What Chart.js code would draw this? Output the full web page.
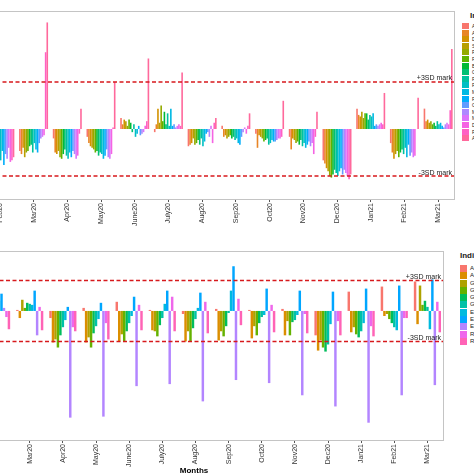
<!DOCTYPE html>
<html>
<head>
<meta charset="utf-8">
<script src="https://cdn.jsdelivr.net/npm/chart.js@4.4.1/dist/chart.umd.min.js"></script>
<style>
  html, body { margin: 0; padding: 0; background: #fff; }
  body { width: 474px; height: 474px; overflow: hidden; position: relative; font-family: "Liberation Sans", Arial, sans-serif; }
  canvas { position: absolute; }
  #topChart { left: -17px; top: 0; }
  #bottomChart { left: -20px; top: 240px; }
  .legend { position: absolute; color: #1a1a1a; white-space: nowrap; }
  .legend .title { font-size: 8px; font-weight: bold; line-height: 10px; }
  .legend .item { display: flex; align-items: flex-start; }
  .legend .key { display: inline-block; flex: none; margin-right: 3px; }
  #topLegend { left: 462px; top: 11px; }
  #topLegend .title { height: 12px; padding-left: 8px; }
  #topLegend .item { height: 6.6px; font-size: 5px; line-height: 6px; }
  #topLegend .key { width: 7px; height: 6px; }
  #bottomLegend { left: 460px; top: 251px; }
  #bottomLegend .title { height: 14px; }
  #bottomLegend .item { height: 7.3px; font-size: 6px; line-height: 7px; }
  #bottomLegend .key { width: 7px; height: 7px; }
  #xTitle { position: absolute; left: 170px; width: 48px; text-align: center; top: 466px; font-size: 8px; font-weight: bold; line-height: 10px; color: #000; }
</style>
</head>
<body>
<canvas id="topChart" width="472" height="230"></canvas>
<canvas id="bottomChart" width="464" height="231"></canvas>
<div id="topLegend" class="legend"></div>
<div id="bottomLegend" class="legend"></div>
<div id="xTitle">Months</div>
<script>
// 월 (x축 라벨)
const months = ['Feb20', 'Mar20', 'Apr20', 'May20', 'June20', 'July20', 'Aug20', 'Sep20', 'Oct20', 'Nov20', 'Dec20', 'Jan21', 'Feb21', 'Mar21']

// 위 패널 지표 (18개)
const topIndicators = ['ANC 1st visit', 'ANC 4th visit', 'Deliveries', 'Skilled birth attendance', 'Postnatal care', 'Family planning',
  'BCG', 'OPV0', 'Penta1', 'Penta3', 'Measles', 'Fully immunised', 'OPD attendance', 'Malaria tested', 'Malaria treated',
  'Diarrhoea', 'Pneumonia', 'Admissions']

// 위 패널 값 (월별, 지표 순서대로)
const topFeb20 = [-0.8, -1.2, -1.4, -1.6, -1.3, -1.8, -1.5, -1.9, -1.7, -2.0, -1.4, -2.3, -1.6, -1.9, -1.2, -2.1, -2.0, -1.8]
const topMar20 = [-1.4, -1.6, -1.2, -1.8, -1.5, -1.4, -1.1, -1.0, -1.5, -0.9, -1.3, -1.5, -0.9, -0.6, -0.5, -0.4, 4.9, 6.8]
const topApr20 = [-0.6, -1.5, -1.6, -1.4, -1.8, -1.9, -1.6, -1.3, -1.7, -1.9, -1.5, -1.8, -1.4, -1.6, -1.9, -1.7, -0.3, 1.3]
const topMay20 = [-0.5, -0.9, -1.1, -1.2, -1.3, -1.5, -1.4, -1.7, -1.5, -1.6, -1.9, -1.7, -1.3, -1.8, -1.9, -1.6, 0.1, 3.0]
const topJune20 = [0.7, 0.3, 0.6, 0.5, 0.2, 0.6, 0.4, -0.2, 0.3, -0.5, -0.3, 0.2, -0.4, -0.3, -0.2, 0.2, 0.5, 4.5]
const topJuly20 = [-0.2, 0.3, 1.3, 0.4, 1.5, 0.5, 1.1, 0.3, 1.0, 0.2, 1.3, 0.2, 0.3, 0.1, 0.2, 0.3, 0.2, 3.6]
const topAug20 = [-1.1, -1.0, -0.9, -0.6, -1.0, -0.9, -0.7, -1.0, -0.6, -1.1, -0.8, -0.3, -0.2, -0.5, 0.2, -0.9, 0.4, 0.7]
const topSep20 = [0.2, -0.5, -0.4, -0.6, -0.5, -0.4, -0.6, -0.5, -0.7, -0.6, -0.9, -1.0, -0.5, -0.2, 0.1, -0.3, 0.2, 1.0]
const topOct20 = [-0.3, -1.2, -0.4, -0.5, -0.6, -0.8, -0.7, -0.6, -1.0, -0.9, -0.7, -0.8, -0.8, -0.7, -0.6, -0.6, -0.5, 1.8]
const topNov20 = [-0.5, -1.3, -0.6, -0.7, -0.9, -0.8, -1.0, -0.7, -1.1, -0.9, -1.2, -1.0, -0.8, -1.1, -0.9, -1.6, -0.5, 1.1]
const topDec20 = [-2.0, -2.2, -2.5, -2.7, -3.0, -3.1, -2.9, -2.6, -2.8, -3.0, -2.7, -2.5, -2.9, -2.6, -2.8, -3.0, -3.2, -2.9]
const topJan21 = [1.3, 0.9, 0.8, 1.1, 0.7, 1.0, 1.0, 0.6, 0.9, 0.8, 1.0, 0.2, 0.3, 0.2, 0.3, 0.4, 0.3, 2.3]
const topFeb21 = [-0.9, -1.5, -1.9, -1.6, -1.4, -1.8, -1.5, -1.3, -1.6, -1.2, -1.8, -1.0, -1.7, -1.5, -1.8, -1.7, 0, 2.0]
const topMar21 = [1.3, 0.5, 0.6, 0.4, 0.5, 0.3, 0.4, 0.2, 0.5, 0.3, 0.4, 0.2, 0.1, 0.3, 0.4, 0.3, 1.2, 5.1]

// 아래 패널 지표 (11개)
const bottomIndicators = ['ANC first visit', 'ANC fourth visit', 'Gen. OPD under 5', 'Gen. OPD over 5', 'Growth monitoring', 'GAM cases',
  'EPI BCG', 'EPI Penta 3', 'EPI Measles', 'RTI cases', 'Referrals']

const botFeb20 = [0.3, -0.4, 0.2, -0.3, 0.4, 0.6, 1.0, 1.7, 0.3, -0.6, -1.8]
const botMar20 = [0.1, -0.7, 1.1, 0.3, 0.8, 0.7, 0.6, 2.0, -2.4, 0.4, -1.9]
const botApr20 = [-0.7, -3.1, -2.8, -3.6, -2.4, -1.6, -0.9, 0.4, -10.5, -1.6, -2.0]
const botMay20 = [0.3, -3.1, -2.6, -3.6, -2.2, -1.5, -0.8, 0.8, -10.4, -1.2, -2.8]
const botJune20 = [0.9, -3.0, -2.3, -3.0, -2.0, -1.2, -0.5, 1.4, -7.4, 0.6, -1.9]
const botJuly20 = [0.1, -1.9, -2.0, -2.5, -1.4, -0.7, 0.7, 2.0, -7.2, 1.4, -2.0]
const botAug20 = [-0.3, -3.0, -2.0, -3.0, -1.7, -0.8, 0.3, 1.8, -8.9, 0.9, -2.2]
const botSep20 = [0.2, -2.9, -2.0, -2.5, -1.5, -0.2, 2.0, 4.4, -6.8, 1.2, -1.4]
const botOct20 = [0.1, -2.7, -1.5, -2.4, -1.2, -0.6, -0.4, 2.2, -7.1, 0.6, -2.1]
const botNov20 = [0.2, -2.4, -1.0, -2.4, -1.1, -0.9, -0.4, 2.0, -8.3, -0.3, -2.2]
const botDec20 = [-2.4, -3.9, -2.9, -3.6, -4.0, -3.3, -1.3, 1.9, -9.4, -1.0, -2.4]
const botJan21 = [1.9, -2.1, -1.6, -2.3, -2.6, -2.0, -1.2, 2.2, -11.0, -1.5, -2.5]
const botFeb21 = [2.4, -0.5, -0.3, -0.8, -1.2, -1.6, -1.9, 2.5, -8.3, -0.7, -0.7]
const botMar21 = [2.9, -1.3, 2.5, 0.6, 1.0, 0.4, -1.8, 3.1, -7.3, 0.9, -2.1]

// 기준선 (+3SD / -3SD)
const sdLevels = [3, -3]
const sdLabels = ['+3SD mark', '-3SD mark']

const topRows = [topFeb20, topMar20, topApr20, topMay20, topJune20, topJuly20, topAug20, topSep20, topOct20, topNov20, topDec20, topJan21, topFeb21, topMar21]
const botRows = [botFeb20, botMar20, botApr20, botMay20, botJune20, botJuly20, botAug20, botSep20, botOct20, botNov20, botDec20, botJan21, botFeb21, botMar21]

Chart.defaults.font.family = '"Liberation Sans", Arial, sans-serif'

// ggplot 기본 색상 (hcl, l=65, c=100)
function hueColor(h) {
  const L = 65, C = 100
  const U = C * Math.cos(h * Math.PI / 180), V = C * Math.sin(h * Math.PI / 180)
  const Xn = 95.047, Yn = 100, Zn = 108.883
  const un = 4 * Xn / (Xn + 15 * Yn + 3 * Zn), vn = 9 * Yn / (Xn + 15 * Yn + 3 * Zn)
  const Y = Yn * Math.pow((L + 16) / 116, 3)
  const u = U / (13 * L) + un, v = V / (13 * L) + vn
  const X = 9 * Y * u / (4 * v)
  const Z = -X / 3 - 5 * Y + 3 * Y / v
  const x = X / 100, y = Y / 100, z = Z / 100
  const lin = [
    3.240479 * x - 1.53715 * y - 0.498535 * z,
    -0.969256 * x + 1.875992 * y + 0.041556 * z,
    0.055648 * x - 0.204043 * y + 1.057311 * z
  ]
  const rgb = lin.map(c => {
    const g = c <= 0.0031308 ? 12.92 * c : 1.055 * Math.pow(c, 1 / 2.4) - 0.055
    return Math.round(Math.min(1, Math.max(0, g)) * 255)
  })
  return `rgb(${rgb[0]}, ${rgb[1]}, ${rgb[2]})`
}
function huePal(n) {
  const out = []
  for (let i = 0; i < n; i++) out.push(hueColor(15 + 360 * i / n))
  return out
}

// 패널 테두리
const panelBorder = {
  id: 'panelBorder',
  afterDraw(chart) {
    const { ctx, chartArea: a } = chart
    ctx.save()
    ctx.strokeStyle = '#c4c4c4'
    ctx.lineWidth = 1
    ctx.strokeRect(a.left + 0.5, a.top + 0.5, a.width - 1, a.height - 1)
    ctx.restore()
  }
}

// 3SD 점선 + 글자
const sdLines = {
  id: 'sdLines',
  afterDatasetsDraw(chart) {
    const { ctx, chartArea: a, scales } = chart
    ctx.save()
    sdLevels.forEach((lv, i) => {
      const y = scales.y.getPixelForValue(lv)
      ctx.strokeStyle = '#d7191c'
      ctx.lineWidth = 1.5
      ctx.setLineDash([4, 2.5])
      ctx.beginPath()
      ctx.moveTo(a.left, y)
      ctx.lineTo(a.right, y)
      ctx.stroke()
      ctx.setLineDash([])
      ctx.fillStyle = '#1a1a1a'
      ctx.font = '7px "Liberation Sans", Arial, sans-serif'
      ctx.textAlign = 'right'
      ctx.textBaseline = 'alphabetic'
      ctx.fillText(sdLabels[i], a.right - 3, y - 1.5)
    })
    ctx.restore()
  }
}

// html 범례
const htmlLegend = {
  id: 'htmlLegend',
  afterUpdate(chart, args, opts) {
    const box = document.getElementById(opts.containerID)
    box.innerHTML = ''
    const title = document.createElement('div')
    title.className = 'title'
    title.textContent = opts.title
    box.appendChild(title)
    const items = chart.options.plugins.legend.labels.generateLabels(chart)
    items.forEach(item => {
      const row = document.createElement('div')
      row.className = 'item'
      const key = document.createElement('span')
      key.className = 'key'
      key.style.background = item.fillStyle
      const txt = document.createElement('span')
      txt.textContent = item.text
      row.appendChild(key)
      row.appendChild(txt)
      box.appendChild(row)
    })
  }
}

function makeChart(canvasId, names, rows, yMin, yMax, legendId, catPct) {
  const colors = huePal(names.length)
  const datasets = names.map((name, i) => ({
    label: name,
    data: rows.map(r => r[i]),
    backgroundColor: colors[i],
    borderWidth: 0
  }))
  return new Chart(document.getElementById(canvasId), {
    type: 'bar',
    data: { labels: months, datasets: datasets },
    options: {
      responsive: false,
      animation: false,
      events: [],
      layout: { padding: { top: 11, left: 0, right: 0, bottom: 0 } },
      datasets: { bar: { categoryPercentage: catPct, barPercentage: 1 } },
      scales: {
        x: {
          offset: true,
          grid: { display: true, offset: false, drawOnChartArea: false, tickLength: 2, color: '#555' },
          border: { display: false },
          ticks: { autoSkip: false, minRotation: 90, maxRotation: 90, padding: 1, color: '#333', font: { size: 7 } },
          afterFit: s => { s.height = 30 }
        },
        y: { display: false, min: yMin, max: yMax }
      },
      plugins: {
        legend: { display: false },
        tooltip: { enabled: false },
        htmlLegend: { containerID: legendId, title: 'Indicators' }
      }
    },
    plugins: [panelBorder, sdLines, htmlLegend]
  })
}

let topChart = makeChart('topChart', topIndicators, topRows, -4.53, 7.53, 'topLegend', 0.86)
let bottomChart = makeChart('bottomChart', bottomIndicators, botRows, -12.8, 5.9, 'bottomLegend', 0.82)
</script>
</body>
</html>
